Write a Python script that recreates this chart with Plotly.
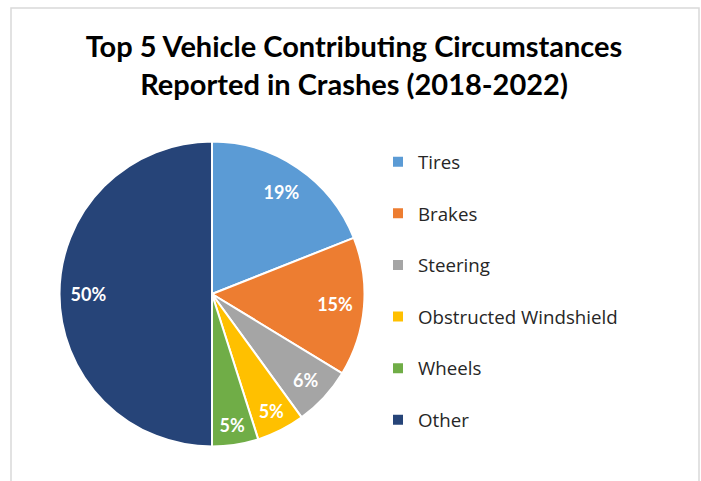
import plotly.graph_objects as go

categories = ["Tires", "Brakes", "Steering", "Obstructed Windshield", "Wheels", "Other"]
values = [19.0, 14.7, 6.3, 5.1, 4.9, 50.0]
colors = ["#5B9BD5", "#ED7D31", "#A5A5A5", "#FFC000", "#70AD47", "#264478"]
title_lines = ["Top 5 Vehicle Contributing Circumstances", "Reported in Crashes (2018-2022)"]

W, H = 701, 481
cx, cy, r = 212, 294, 152.5
dom = dict(x=[(cx - r) / W, (cx + r) / W], y=[(H - cy - r) / H, (H - cy + r) / H])

legend_labels = [c + "<br> " for c in categories]

fig = go.Figure()
# coloured slices
fig.add_trace(go.Pie(
    labels=legend_labels,
    values=values,
    sort=False,
    direction="clockwise",
    rotation=0,
    marker=dict(colors=colors, line=dict(color="white", width=2)),
    textinfo="none",
    domain=dom,
    hoverinfo="skip",
))
# percentage labels placed in the outer ring (like Excel)
fig.add_trace(go.Pie(
    labels=legend_labels,
    values=values,
    sort=False,
    direction="clockwise",
    rotation=0,
    hole=0.62,
    marker=dict(colors=["rgba(0,0,0,0)"] * len(values), line=dict(width=0)),
    texttemplate="%{percent:.0%}",
    textposition="inside",
    insidetextorientation="horizontal",
    textfont=dict(family="Lato", size=18, color="white", weight="bold"),
    domain=dom,
    showlegend=False,
    hoverinfo="skip",
))

fig.update_layout(
    width=W, height=H,
    margin=dict(l=0, r=0, t=0, b=0, autoexpand=False),
    paper_bgcolor="white",
    plot_bgcolor="white",
    title=dict(
        text="<b>" + "<br>".join(title_lines) + "</b>",
        x=354 / W, xanchor="center",
        y=1 - 57 / H, yanchor="top", yref="container",
        font=dict(family="Lato", size=29, color="black"),
    ),
    legend=dict(
        x=378 / W, xanchor="left",
        y=(H - 143) / H, yanchor="top",
        font=dict(family="Open Sans", size=18.7, color="#262626"),
        valign="top",
        bgcolor="rgba(0,0,0,0)",
        borderwidth=0,
    ),
    shapes=[dict(
        type="rect", xref="paper", yref="paper",
        x0=11 / W, x1=699 / W, y0=-0.05, y1=1 - 8 / H,
        line=dict(color="#D9D9D9", width=1.5),
        fillcolor="rgba(0,0,0,0)", layer="below",
    )],
)

fig.write_html("out.html")
